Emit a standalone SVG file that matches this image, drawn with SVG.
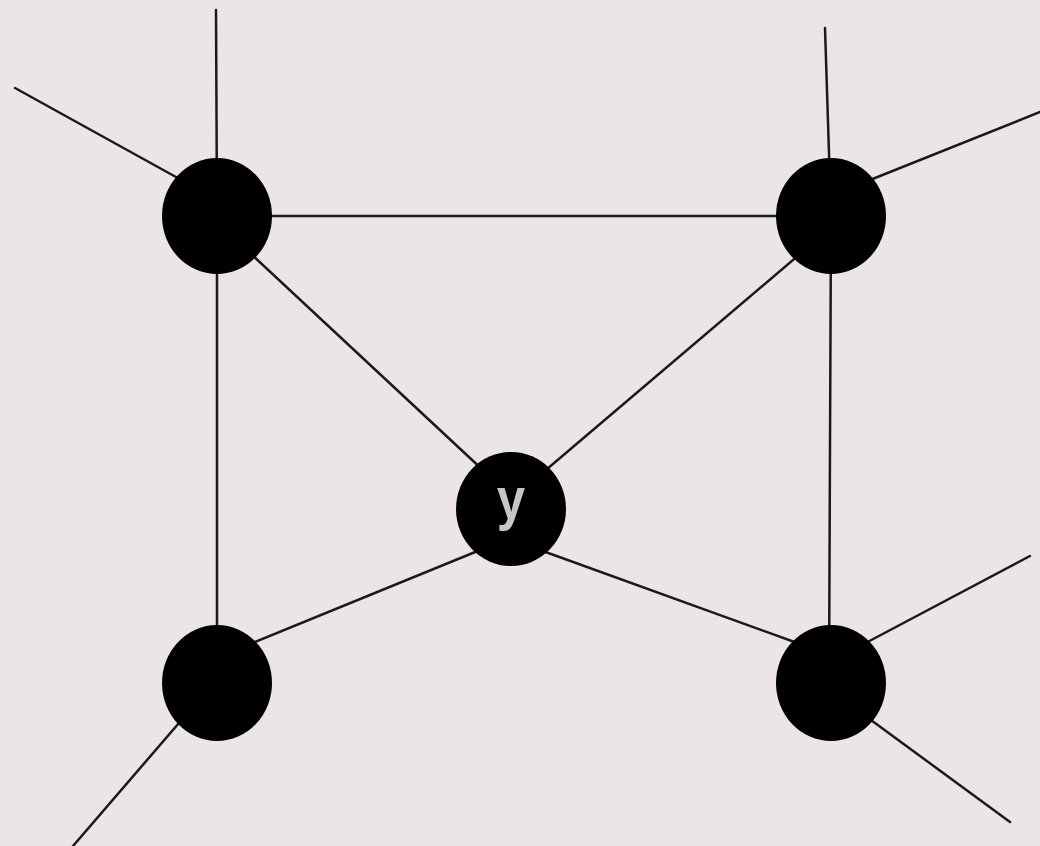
<svg xmlns="http://www.w3.org/2000/svg" width="1040" height="846" viewBox="0 0 1040 846">
<style>
.edge{stroke:#1a1a1a;stroke-width:2.5;fill:none;stroke-linecap:round}
.node{fill:#000}
.lbl{font-family:"Liberation Sans","DejaVu Sans",sans-serif;font-size:60px;font-weight:bold;fill:#c9c5c7;text-anchor:middle}
</style>
<rect width="1040" height="846" fill="#ece5e8"/>
<g id="connectors">
<line class="edge" x1="216" y1="10" x2="217" y2="216"/>
<line class="edge" x1="15" y1="88" x2="185" y2="182"/>
<line class="edge" x1="825" y1="28" x2="831" y2="216"/>
<line class="edge" x1="1040" y1="112" x2="860" y2="184"/>
<line class="edge" x1="217" y1="216" x2="831" y2="216"/>
<line class="edge" x1="217" y1="216" x2="217" y2="683"/>
<line class="edge" x1="831" y1="216" x2="829" y2="683"/>
<line class="edge" x1="250" y1="253" x2="485" y2="472"/>
<line class="edge" x1="800" y1="254" x2="540" y2="475"/>
<line class="edge" x1="245" y1="646" x2="485" y2="548"/>
<line class="edge" x1="800" y1="644" x2="540" y2="550"/>
<line class="edge" x1="185" y1="716" x2="73" y2="846"/>
<line class="edge" x1="860" y1="646" x2="1030" y2="556"/>
<line class="edge" x1="860" y1="712" x2="1010" y2="822"/>
</g>
<g id="node-tl"><ellipse class="node" cx="217" cy="216" rx="55" ry="58"/></g>
<g id="node-tr"><ellipse class="node" cx="831" cy="216" rx="55" ry="58"/></g>
<g id="node-bl"><ellipse class="node" cx="217" cy="683" rx="55" ry="58"/></g>
<g id="node-br"><ellipse class="node" cx="831" cy="683" rx="55" ry="58"/></g>
<g id="node-y"><ellipse class="node" cx="511" cy="509" rx="55" ry="57"/><text class="lbl" transform="translate(511 519) scale(0.85 1)">y</text></g>
</svg>
